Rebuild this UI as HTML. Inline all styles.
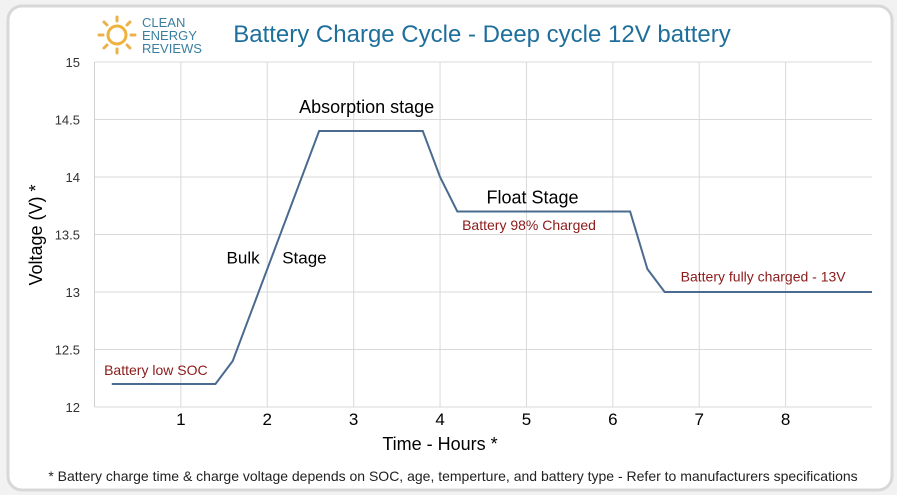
<!DOCTYPE html>
<html><head><meta charset="utf-8"><style>
body{margin:0;background:#fff;width:897px;height:495px;overflow:hidden;font-family:"Liberation Sans",sans-serif}
</style></head><body>
<svg width="897" height="495" xmlns="http://www.w3.org/2000/svg">
<rect x="0" y="0" width="897" height="495" fill="#f2f2f2"/>
<rect x="8" y="6" width="884" height="484" rx="14" fill="#fff" stroke="#d8d8d8" stroke-width="3"/>
<g>
 <circle cx="117" cy="35" r="9" fill="none" stroke="#f0b23c" stroke-width="3"/>
 <g stroke="#eeb04a" stroke-width="3" stroke-linecap="round">
  <line x1="117" y1="17" x2="117" y2="21"/><line x1="117" y1="49" x2="117" y2="53"/>
  <line x1="99" y1="35" x2="103" y2="35"/><line x1="131" y1="35" x2="135" y2="35"/>
  <line x1="104" y1="22" x2="107" y2="25"/><line x1="127" y1="45" x2="130" y2="48"/>
  <line x1="104" y1="48" x2="107" y2="45"/><line x1="127" y1="25" x2="130" y2="22"/>
 </g>
 <text x="142" y="27" font-size="13" fill="#3a7fa0">CLEAN</text>
 <text x="142" y="40" font-size="13" fill="#3a7fa0">ENERGY</text>
 <text x="142" y="53" font-size="13" fill="#3a7fa0">REVIEWS</text>
</g>
<text x="482" y="42" text-anchor="middle" font-size="24" fill="#1f6f9c">Battery Charge Cycle -  Deep cycle 12V battery</text>
<g id="grid"></g>
<g id="axes"></g>
<path id="line" fill="none" stroke="#4a6b8f" stroke-width="2"/>
<g id="labels" font-size="13" fill="#8b1a1a"></g>
<text transform="translate(42,235) rotate(-90)" text-anchor="middle" font-size="18" fill="#000">Voltage (V) *</text>
<text x="440" y="450" text-anchor="middle" font-size="18" fill="#000">Time - Hours *</text>
<text x="453" y="481" text-anchor="middle" font-size="14" fill="#222">* Battery charge time &amp; charge voltage depends on SOC, age, temperture, and battery type - Refer to manufacturers specifications</text>
</svg>
<script>
const hours=[0.2,1.4,1.6,2.6,3.8,4.0,4.2,6.2,6.4,6.6,9];
const volts=[12.2,12.2,12.4,14.4,14.4,14.0,13.7,13.7,13.2,13.0,13.0];
const yTicks=[12,12.5,13,13.5,14,14.5,15];
const yTickLabels=["12","12.5","13","13.5","14","14.5","15"];
const xTicks=[1,2,3,4,5,6,7,8];
const xTickLabels=["1","2","3","4","5","6","7","8"];
const annotations=[["Absorption stage",3.15,14.556,"#000",18],["Bulk",1.72,13.25,"#000",17],["Stage",2.43,13.25,"#000",17],["Float Stage",5.07,13.77,"#000",18],["Battery 98% Charged",5.03,13.54,"#8b1a1a",14],["Battery low SOC",0.71,12.28,"#8b1a1a",14],["Battery fully charged - 13V",7.74,13.09,"#8b1a1a",14]];
const X0=94.5,X1=872,Y0=407,Y1=62;
const xs=h=>X0+h*(X1-X0)/9;
const ys=v=>Y0-(v-12)*(Y0-Y1)/3;
const NS="http://www.w3.org/2000/svg";
const grid=document.getElementById('grid'),axes=document.getElementById('axes'),lab=document.getElementById('labels');
function mk(tag,attrs,parent){const e=document.createElementNS(NS,tag);for(const k in attrs)e.setAttribute(k,attrs[k]);parent.appendChild(e);return e;}
yTicks.forEach((v,i)=>{
 const l=mk('line',{x1:X0,x2:X1,y1:ys(v),y2:ys(v),stroke:'#d9d9d9'},grid);
 
 
 const t=mk('text',{x:80,y:ys(v)+5,'text-anchor':'end','font-size':13,fill:'#333'},axes);
 t.textContent=yTickLabels[i];
 
 
});
xTicks.forEach((h,i)=>{
 const l=mk('line',{x1:xs(h),x2:xs(h),y1:Y1,y2:Y0,stroke:'#d9d9d9'},grid);
 
 
 const t=mk('text',{x:xs(h),y:425,'text-anchor':'middle','font-size':17,fill:'#000'},axes);
 t.textContent=xTickLabels[i];
 
 
});
const la=mk('line',{x1:X0,x2:X0,y1:Y1,y2:Y0,stroke:'#d0d0d0'},grid);


document.getElementById('line').setAttribute('d',hours.map((h,i)=>(i?'L':'M')+xs(h)+' '+ys(volts[i])).join(' '));
annotations.forEach(a=>{
 const t=mk('text',{x:xs(a[1]),y:ys(a[2]),'text-anchor':'middle','font-size':a[4],fill:a[3]},lab);
 t.textContent=a[0];
 
 
});
</script>
</body></html>
